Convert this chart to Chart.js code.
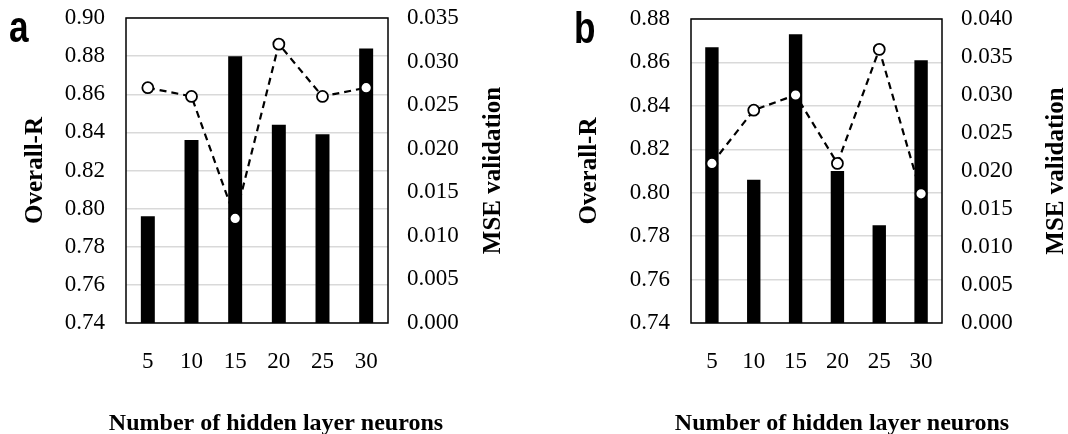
<!DOCTYPE html>
<html>
<head>
<meta charset="utf-8">
<script src="https://cdn.jsdelivr.net/npm/chart.js"></script>
<style>
body{margin:0;background:#fff;width:1068px;height:434px;overflow:hidden;position:relative}
.panel{position:absolute;top:0;width:534px;height:434px}
</style>
</head>
<body>
<div class="panel" style="left:0"><canvas id="chartA"></canvas></div>
<div class="panel" style="left:534px"><canvas id="chartB"></canvas></div>
<script>
// data
var neurons = ["5", "10", "15", "20", "25", "30"];
var overallR_a = [0.796, 0.836, 0.880, 0.844, 0.839, 0.884];
var mse_a = [0.027, 0.026, 0.012, 0.032, 0.026, 0.027];
var overallR_b = [0.867, 0.806, 0.873, 0.810, 0.785, 0.861];
var mse_b = [0.021, 0.028, 0.030, 0.021, 0.036, 0.017];

var xTitle = "Number of hidden layer neurons";
var leftTitle = "Overall-R";
var rightTitle = "MSE validation";

var serif = '"Liberation Serif", "Times New Roman", serif';

// box, panel letter and axis titles
var panelText = {
  id: 'panelText',
  afterDraw: function(chart, args, o) {
    var ctx = chart.ctx, a = chart.chartArea;
    var midY = (a.top + a.bottom) / 2;
    ctx.save();
    ctx.strokeStyle = '#000';
    ctx.lineWidth = 1.5;
    ctx.strokeRect(a.left, a.top, a.right - a.left, a.bottom - a.top);

    ctx.fillStyle = '#000';
    ctx.textBaseline = 'alphabetic';
    ctx.textAlign = 'left';
    // narrow bold sans letter
    ctx.save();
    ctx.translate(o.letterX, o.letterY);
    ctx.scale(0.8, 1);
    ctx.font = 'bold 44px "Liberation Sans", Arial, sans-serif';
    ctx.fillText(o.letter, 0, 0);
    ctx.restore();

    ctx.font = 'bold 24px ' + serif;
    ctx.textAlign = 'center';
    ctx.fillText(xTitle, o.xTitleX, 430);

    ctx.font = 'bold 25px ' + serif;
    [[o.leftTitleX, leftTitle], [o.rightTitleX, rightTitle]].forEach(function(t) {
      ctx.save();
      ctx.translate(t[0], midY);
      ctx.rotate(-Math.PI / 2);
      ctx.fillText(t[1], 0, 0);
      ctx.restore();
    });
    ctx.restore();
  }
};

function fitY(w) {
  return function(s) {
    s.width = w;
    s.paddingTop = 0;
    s.paddingBottom = 0;
  };
}

function makeChart(id, rVals, mseVals, rMax, mseMax, box, text) {
  return new Chart(id, {
    type: 'bar',
    data: {
      labels: neurons,
      datasets: [{
        type: 'line',
        data: mseVals,
        yAxisID: 'y1',
        order: 0,
        borderColor: '#000',
        borderWidth: 2.2,
        borderDash: [7, 5],
        tension: 0,
        pointRadius: 5.5,
        pointBackgroundColor: '#fff',
        pointBorderColor: '#000',
        pointBorderWidth: 1.8
      }, {
        data: rVals,
        yAxisID: 'y',
        order: 1,
        backgroundColor: '#000',
        categoryPercentage: 1,
        barPercentage: 0.32
      }]
    },
    options: {
      responsive: true,
      maintainAspectRatio: false,
      animation: false,
      layout: {padding: {top: box.top, left: 0, right: 0, bottom: 0}},
      plugins: {
        legend: {display: false},
        tooltip: {enabled: false},
        panelText: text
      },
      scales: {
        x: {
          grid: {display: false, drawTicks: false},
          border: {display: false},
          ticks: {color: '#000', padding: 25, font: {family: serif, size: 23}},
          afterFit: function(s) { s.height = box.bottom; }
        },
        y: {
          position: 'left',
          min: 0.74,
          max: rMax,
          grid: {color: '#d9d9d9', lineWidth: 1.5, drawTicks: false},
          border: {display: false},
          ticks: {
            stepSize: 0.02, color: '#000', padding: 21,
            font: {family: serif, size: 23},
            callback: function(v) { return v.toFixed(2); }
          },
          afterFit: fitY(box.left)
        },
        y1: {
          position: 'right',
          min: 0,
          max: mseMax,
          grid: {display: false, drawTicks: false},
          border: {display: false},
          ticks: {
            stepSize: 0.005, color: '#000', padding: 19,
            font: {family: serif, size: 23},
            callback: function(v) { return v.toFixed(3); }
          },
          afterFit: fitY(box.right)
        }
      }
    },
    plugins: [panelText]
  });
}

makeChart('chartA', overallR_a, mse_a, 0.90, 0.035,
  {top: 18, left: 126, right: 146, bottom: 111},
  {letter: 'a', letterX: 9, letterY: 42, xTitleX: 276, leftTitleX: 42, rightTitleX: 500});

makeChart('chartB', overallR_b, mse_b, 0.88, 0.040,
  {top: 19, left: 157, right: 126, bottom: 111},
  {letter: 'b', letterX: 40, letterY: 43, xTitleX: 308, leftTitleX: 62, rightTitleX: 529});
</script>
</body>
</html>
